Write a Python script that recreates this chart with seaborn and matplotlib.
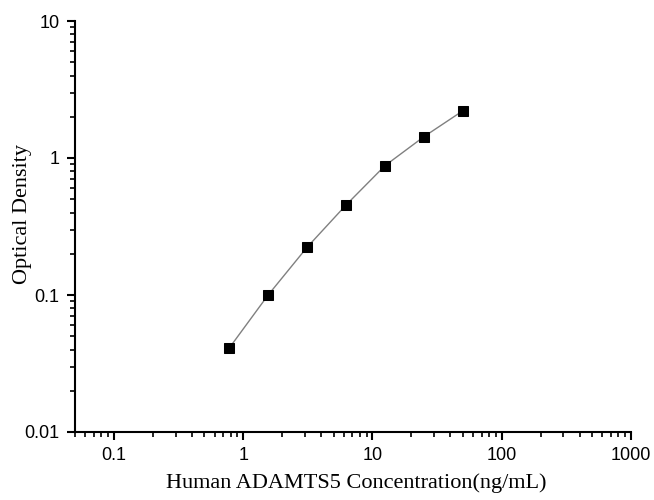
import numpy as np
import pandas as pd
import matplotlib
matplotlib.use("Agg")
import matplotlib.pyplot as plt
import seaborn as sns
from matplotlib.ticker import LogLocator, FixedLocator, FixedFormatter, NullFormatter

sns.set_style("ticks")
plt.rcParams['font.family'] = ['Liberation Sans', 'DejaVu Sans']
plt.rcParams['text.color'] = 'black'
plt.rcParams['axes.labelcolor'] = 'black'

# standard curve values
conc = [0.78, 1.56, 3.12, 6.25, 12.5, 25, 50]
od = [0.041, 0.1, 0.223, 0.454, 0.879, 1.43, 2.21]
x_ticks = [0.1, 1, 10, 100, 1000]
x_labels = ["0.1", "1", "10", "100", "1000"]
y_ticks = [0.01, 0.1, 1, 10]
y_labels = ["0.01", "0.1", "1", "10"]

df = pd.DataFrame({"conc": conc, "od": od})

fig = plt.figure(figsize=(6.54, 5.0), dpi=100)
ax = fig.add_axes([0.1147, 0.136, 0.8501, 0.822])

sns.lineplot(data=df, x="conc", y="od", ax=ax, color="#808080", linewidth=1.0,
             marker="s", markersize=6.8, markerfacecolor="black",
             markeredgecolor="black")

ax.set_xscale("log")
ax.set_yscale("log")
ax.set_xlim(0.05, 1000)
ax.set_ylim(0.01, 10)

ax.xaxis.set_major_locator(FixedLocator(x_ticks))
ax.xaxis.set_major_formatter(FixedFormatter(x_labels))
ax.yaxis.set_major_locator(FixedLocator(y_ticks))
ax.yaxis.set_major_formatter(FixedFormatter(y_labels))
ax.xaxis.set_minor_locator(LogLocator(base=10, subs=np.arange(2, 10), numticks=20))
ax.yaxis.set_minor_locator(LogLocator(base=10, subs=np.arange(2, 10), numticks=20))
ax.xaxis.set_minor_formatter(NullFormatter())
ax.yaxis.set_minor_formatter(NullFormatter())

ax.tick_params(which="major", direction="out", length=6, width=1.5,
               labelsize=13, colors="black", pad=5)
ax.tick_params(which="minor", direction="out", length=3.5, width=1.2,
               colors="black")

for s in ["top", "right"]:
    ax.spines[s].set_visible(False)
for s in ["left", "bottom"]:
    ax.spines[s].set_linewidth(1.5)
    ax.spines[s].set_color("black")

ax.set_xlabel("Human ADAMTS5 Concentration(ng/mL)", family="Liberation Serif",
              fontsize=16, va="center", color="black")
ax.set_ylabel("Optical Density", family="Liberation Serif", fontsize=16,
              va="center", color="black")
ax.xaxis.set_label_coords(0.506, -0.124)
ax.yaxis.set_label_coords(-0.095, 0.531)

fig.savefig("out.png", dpi=100)
